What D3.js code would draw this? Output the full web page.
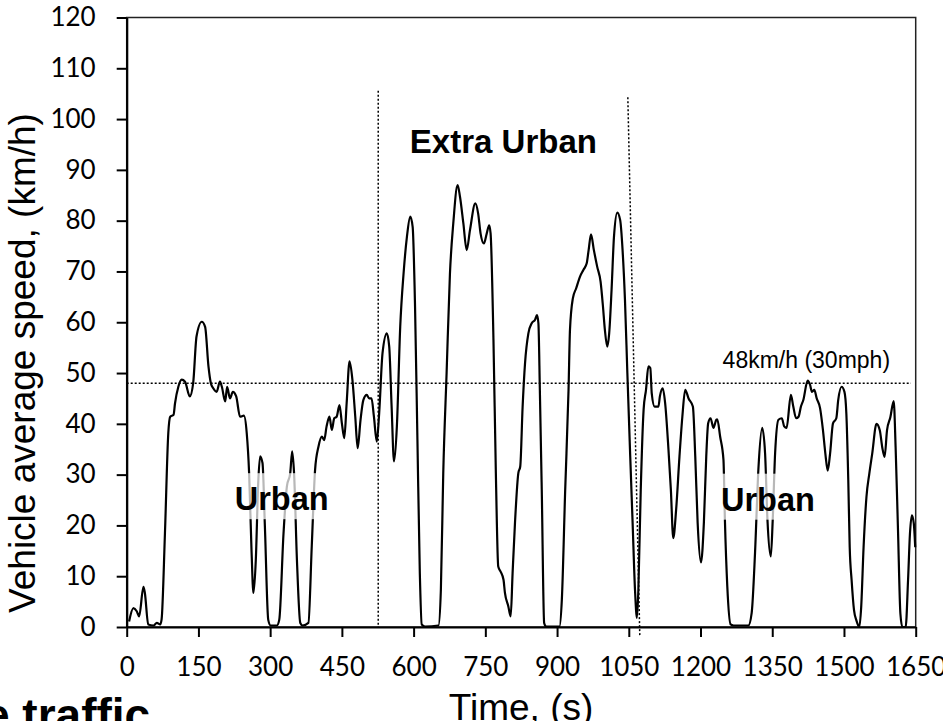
<!DOCTYPE html>
<html>
<head>
<meta charset="utf-8">
<script src="https://cdn.jsdelivr.net/npm/d3@7"></script>
<style>
  body { margin: 0; background: #fff; }
  svg { display: block; }
</style>
</head>
<body>
<div id="chart"></div>
<script>
// time (s) and vehicle speed (km/h)
const times = [5, 14, 21, 26, 35, 38, 45, 56, 63, 70, 73, 80, 87, 91, 98, 101, 108, 115, 122, 132,
  139, 146, 157, 164, 171, 176, 181, 188, 195, 199, 206, 210, 216, 222, 229, 237, 245, 251, 256, 261,
  265, 270, 275, 279, 284, 289, 296, 301, 314, 319, 328, 335, 342, 346, 350, 356, 363, 368, 380, 387,
  394, 401, 408, 413, 418, 424, 429, 434, 439, 445, 450, 455, 460, 466, 472, 478, 483, 489, 495, 502,
  507, 512, 517, 523, 528, 535, 544, 549, 554, 559, 565, 572, 579, 586, 593, 598, 603, 608, 613, 617,
  624, 652, 657, 662, 669, 676, 683, 692, 697, 704, 711, 718, 729, 735, 740, 747, 753, 758, 761, 767,
  772, 777, 782, 788, 791, 798, 803, 807, 812, 819, 823, 828, 833, 840, 847, 854, 858, 861, 864, 868,
  873, 877, 905, 910, 917, 924, 927, 933, 940, 948, 955, 962, 966, 971, 977, 984, 991, 996, 1000, 1005,
  1009, 1014, 1019, 1026, 1032, 1037, 1042, 1047, 1053, 1058, 1063, 1067, 1070, 1075, 1081, 1086, 1091, 1095, 1098, 1104,
  1112, 1115, 1121, 1126, 1133, 1138, 1143, 1149, 1156, 1162, 1168, 1175, 1184, 1189, 1194, 1201, 1207, 1212, 1216, 1221,
  1227, 1233, 1235, 1241, 1248, 1251, 1256, 1263, 1269, 1300, 1307, 1314, 1321, 1329, 1335, 1340, 1347, 1351, 1356, 1363,
  1370, 1375, 1380, 1389, 1394, 1400, 1405, 1410, 1415, 1424, 1429, 1433, 1438, 1443, 1450, 1456, 1461, 1466, 1471, 1477,
  1484, 1488, 1495, 1501, 1505, 1509, 1512, 1516, 1521, 1526, 1532, 1536, 1541, 1547, 1553, 1559, 1568, 1575, 1580, 1585,
  1590, 1597, 1604, 1608, 1613, 1618, 1622, 1629, 1634, 1638, 1642, 1646, 1649];
const speeds = [1.1, 3.7, 3.1, 2.1, 7.9, 6.7, 0.5, 0.3, 0.8, 0.5, 1.5, 18.5, 38.2, 41.4, 41.8, 44, 47.3, 48.7, 48.3, 45.4,
  48, 57.2, 60.1, 59.1, 51.3, 48, 47, 46.3, 48.3, 47.3, 44.4, 47.3, 45, 46.3, 45.4, 41.4, 41.6, 38.2, 30.3, 15.2,
  6.7, 13.2, 28.3, 33.6, 32.3, 19.8, 1.4, 0.3, 0.3, 1.4, 18.5, 27.7, 30.3, 34.6, 30.3, 13.2, 0.8, 0.3, 0.8, 15.9,
  31, 35.5, 37.5, 36.8, 39.5, 41.4, 38.8, 41.1, 41.4, 43.7, 40.1, 37.2, 44.1, 52.3, 48.7, 41.4, 35.2, 40.8, 44.7, 45.7,
  45, 45, 41.4, 36.5, 42.1, 53.9, 57.8, 55.2, 43.4, 32.6, 39.5, 59.1, 69.6, 76.8, 80.8, 78.8, 63.1, 36.8, 10.6, 0.5,
  0.1, 0.3, 7.3, 30.3, 50, 69.6, 79.5, 87, 84.7, 79.5, 74.2, 78.2, 83.4, 81.4, 77.5, 75.5, 77.5, 79.1, 77.5, 56.5,
  30.3, 11.9, 10.9, 9.3, 6.7, 4.1, 2.1, 10.6, 20.5, 30.3, 31.6, 43.4, 51.9, 57.8, 59.8, 60.5, 61.4, 59.8, 46.7, 27,
  0.8, 0.1, 0.1, 5.4, 27, 46.7, 58.5, 64.7, 66.7, 69, 70.3, 71.6, 74.2, 77.3, 74.2, 70.9, 68, 63.1, 58.5, 55.2,
  57.8, 66.4, 76.8, 81.6, 80.1, 74.2, 64.4, 50, 33.6, 20.5, 7.3, 1.8, 7.3, 27, 42.8, 46.7, 51.3, 51, 46, 43.4,
  43.4, 45.4, 47, 44.1, 34.9, 27, 17.5, 23.1, 33.6, 41.4, 46.7, 45, 43.4, 33.6, 20.5, 12.7, 20.5, 33.6, 40.1, 41.1,
  39.2, 40.8, 40.9, 37.5, 32.9, 21.1, 8, 0.5, 0.3, 0.3, 2.8, 14.6, 31, 39.2, 34.2, 21.1, 13.9, 21.1, 34.2, 40.8,
  41.1, 39.5, 39.2, 45.7, 43.4, 41.1, 41.4, 43.4, 44.7, 48.5, 47.7, 46.3, 46.7, 45, 43.1, 38.8, 34.2, 30.8, 34.2, 40.1,
  41.1, 44.7, 47.3, 46.3, 42, 28.9, 15.7, 9.2, 3.3, 1.3, 0, 3.9, 15.7, 25.6, 30.2, 34.1, 40, 38.7, 35.4, 33.5,
  38.7, 41.3, 44.5, 35.4, 19, 2.6, 0, 0, 9.2, 18.4, 22, 20.4, 15.7];

const xTicks = [0, 150, 300, 450, 600, 750, 900, 1050, 1200, 1350, 1500, 1650];
const yTicks = [0, 10, 20, 30, 40, 50, 60, 70, 80, 90, 100, 110, 120];

const speedLimit = 48;
const speedLimitLabel = '48km/h (30mph)';
// phase boundaries: [time, speed] at top and bottom of each dotted marker
const boundaries = [
  [[526, 105.6], [526, 0]],
  [[1048, 104.3], [1073, -1.8]]
];
const phaseLabels = ['Urban', 'Extra Urban', 'Urban'];

const width = 943, height = 721;
const margin = { left: 126.7, right: 943 - 915.7, top: 17.5, bottom: 721 - 627 };

const svg = d3.select('#chart').append('svg')
  .attr('width', width)
  .attr('height', height);

const x = d3.scaleLinear().domain([0, 1650]).range([margin.left, width - margin.right]);
const y = d3.scaleLinear().domain([0, 120]).range([height - margin.bottom, margin.top]);

const points = times.map((t, i) => [t, speeds[i]]);

// plot frame
svg.append('rect')
  .attr('x', x(0)).attr('y', y(120))
  .attr('width', x(1650) - x(0)).attr('height', y(0) - y(120))
  .attr('fill', 'none').attr('stroke', '#222').attr('stroke-width', 1.5);

// dotted reference lines
svg.append('line')
  .attr('x1', x(0)).attr('x2', x(1640))
  .attr('y1', y(speedLimit)).attr('y2', y(speedLimit))
  .attr('stroke', '#000').attr('stroke-width', 1.5).attr('stroke-dasharray', '2,2');

svg.selectAll('.boundary')
  .data(boundaries)
  .enter().append('line')
  .attr('class', 'boundary')
  .attr('x1', d => x(d[0][0])).attr('y1', d => y(d[0][1]))
  .attr('x2', d => x(d[1][0])).attr('y2', d => y(d[1][1]))
  .attr('stroke', '#000').attr('stroke-width', 1.5).attr('stroke-dasharray', '2,2');

// speed trace
const line = d3.line()
  .x(d => x(d[0]))
  .y(d => y(d[1]))
  .curve(d3.curveMonotoneX);

svg.append('path')
  .datum(points)
  .attr('d', line)
  .attr('fill', 'none')
  .attr('stroke', '#000')
  .attr('stroke-width', 2.2)
  .attr('stroke-linejoin', 'round');

// axes
const xAxis = d3.axisBottom(x).tickValues(xTicks).tickSize(10).tickSizeOuter(0).tickPadding(21).tickFormat(d3.format('d'));
const yAxis = d3.axisLeft(y).tickValues(yTicks).tickSize(10).tickSizeOuter(0).tickPadding(21).tickFormat(d3.format('d'));

const gx = svg.append('g')
  .attr('transform', `translate(0,${y(0)})`)
  .call(xAxis);
const gy = svg.append('g')
  .attr('transform', `translate(${x(0)},0)`)
  .call(yAxis);

[gx, gy].forEach(g => {
  g.select('.domain').attr('stroke', '#000').attr('stroke-width', 2.2);
  g.selectAll('.tick line').attr('stroke', '#000').attr('stroke-width', 2);
  g.selectAll('.tick text')
    .attr('fill', '#000')
    .style('font-family', 'Lato, "Open Sans", sans-serif')
    .style('font-size', '26px');
});

// phase labels, with a translucent white box behind the urban ones
const labelFont = '"Liberation Sans", Arial, sans-serif';
const urbanPos = [[324, 23], [1341, 22.9]];
urbanPos.forEach(p => {
  svg.append('rect')
    .attr('x', x(p[0]) - 50).attr('y', y(p[1]) - 37)
    .attr('width', 100).attr('height', 46)
    .attr('fill', '#fff').attr('fill-opacity', 0.72);
});
svg.selectAll('.urban')
  .data(urbanPos)
  .enter().append('text')
  .attr('class', 'urban')
  .attr('x', d => x(d[0])).attr('y', d => y(d[1]))
  .attr('text-anchor', 'middle')
  .style('font-family', labelFont).style('font-weight', 'bold').style('font-size', '32.5px')
  .text((d, i) => i === 0 ? phaseLabels[0] : phaseLabels[2]);

svg.append('text')
  .attr('x', x(787.7)).attr('y', y(93.3))
  .attr('text-anchor', 'middle')
  .style('font-family', labelFont).style('font-weight', 'bold').style('font-size', '33px')
  .text(phaseLabels[1]);

svg.append('text')
  .attr('x', x(1596.4)).attr('y', y(50.9))
  .attr('text-anchor', 'end')
  .style('font-family', labelFont).style('font-size', '23px')
  .text(speedLimitLabel);

// axis titles
svg.append('text')
  .attr('transform', 'rotate(-90)')
  .attr('x', -363).attr('y', 35)
  .attr('text-anchor', 'middle')
  .style('font-family', labelFont).style('font-size', '37px')
  .text('Vehicle average speed, (km/h)');

svg.append('text')
  .attr('x', 521).attr('y', 720)
  .attr('text-anchor', 'middle')
  .style('font-family', labelFont).style('font-size', '37px')
  .text('Time, (s)');

// clipped caption from the page below the chart
svg.append('text')
  .attr('x', -16).attr('y', 731)
  .style('font-family', labelFont).style('font-weight', 'bold').style('font-size', '46px')
  .text('e traffic');
</script>
</body>
</html>
